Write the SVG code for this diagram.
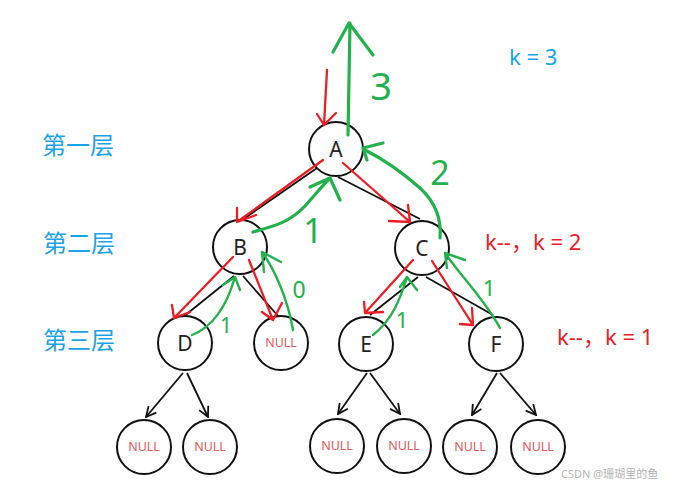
<svg xmlns="http://www.w3.org/2000/svg" width="677" height="487" viewBox="0 0 677 487">
<defs>
<style>
.node{fill:#fff;stroke:#111;stroke-width:2}
.lbl{font-family:"Noto Sans","Liberation Sans",sans-serif;font-size:21px;fill:#222;text-anchor:middle}
.null{font-family:"Noto Sans","Liberation Sans",sans-serif;font-size:12.5px;fill:#e05a5e;text-anchor:middle}
.edge{stroke:#111;stroke-width:1.8;fill:none}
.red{stroke:#ee1c24;stroke-width:2.3;fill:none;stroke-linecap:round;stroke-linejoin:round}
.green{stroke:#22b14c;stroke-width:3.2;fill:none;stroke-linecap:round;stroke-linejoin:round}
.gnum{font-family:"Noto Sans","Liberation Sans",sans-serif;fill:#22b14c;text-anchor:middle}
.blue{font-family:"Noto Sans","Noto Sans CJK SC",sans-serif;fill:#1aa3e8}
.rtxt{font-family:"Noto Sans","Noto Sans CJK SC",sans-serif;font-size:22px;fill:#ee1c24}
</style>
<marker id="chev" viewBox="0 0 12 12" refX="11" refY="6" markerWidth="12" markerHeight="12" markerUnits="userSpaceOnUse" orient="auto">
<path d="M1,1 L11,6 L1,11" fill="none" stroke="#111" stroke-width="1.8"/>
</marker>
</defs>
<rect width="677" height="487" fill="#fff"/>

<g id="connectors">
<path class="edge" d="M317,168 L242,220"/>
<path class="edge" d="M338,177 L420,219"/>
<path class="edge" d="M234,276 L183,317"/>
<path class="edge" d="M243,276 L278,316"/>
<path class="edge" d="M418,277 L370,315"/>
<path class="edge" d="M426,277 L493,315"/>
<path class="edge" d="M183,373 L146,417" marker-end="url(#chev)"/>
<path class="edge" d="M187,373 L208,417" marker-end="url(#chev)"/>
<path class="edge" d="M367,373 L338,414" marker-end="url(#chev)"/>
<path class="edge" d="M370,373 L400,414" marker-end="url(#chev)"/>
<path class="edge" d="M497,373 L472,415" marker-end="url(#chev)"/>
<path class="edge" d="M500,373 L536,415" marker-end="url(#chev)"/>
</g>

<g id="nodes">
<g id="A"><circle class="node" cx="336" cy="149" r="27"/><text class="lbl" x="336" y="157">A</text></g>
<g id="B"><circle class="node" cx="240" cy="247" r="27"/><text class="lbl" x="240" y="255">B</text></g>
<g id="C"><circle class="node" cx="422" cy="248" r="27"/><text class="lbl" x="422" y="256">C</text></g>
<g id="D"><circle class="node" cx="185" cy="343" r="27"/><text class="lbl" x="185" y="351">D</text></g>
<g id="N1"><circle class="node" cx="281" cy="343" r="27"/><text class="null" x="281" y="347">NULL</text></g>
<g id="E"><circle class="node" cx="366" cy="344" r="27"/><text class="lbl" x="366" y="352">E</text></g>
<g id="F"><circle class="node" cx="496" cy="344" r="27"/><text class="lbl" x="496" y="352">F</text></g>
<g id="N2"><circle class="node" cx="144" cy="447" r="27"/><text class="null" x="144" y="451">NULL</text></g>
<g id="N3"><circle class="node" cx="210" cy="447" r="27"/><text class="null" x="210" y="451">NULL</text></g>
<g id="N4"><circle class="node" cx="337" cy="446" r="27"/><text class="null" x="337" y="450">NULL</text></g>
<g id="N5"><circle class="node" cx="404" cy="446" r="27"/><text class="null" x="404" y="450">NULL</text></g>
<g id="N6"><circle class="node" cx="470" cy="447" r="27"/><text class="null" x="470" y="451">NULL</text></g>
<g id="N7"><circle class="node" cx="538" cy="447" r="27"/><text class="null" x="538" y="451">NULL</text></g>
</g>

<g id="red-arrows">
<path class="red" d="M327,70 L324,125 M317,114 L324,125 L336,113"/>
<path class="red" d="M323,160 L237,222 M237,208 L237,222 L256,215"/>
<path class="red" d="M343,163 L410,222 M408,205 L410,222 L389,221"/>
<path class="red" d="M233,257 L175,317 M172,305 L174,318 L190,312"/>
<path class="red" d="M249,260 L273,320 M262,312 L273,320 L282,303"/>
<path class="red" d="M413,260 L365,313 M364,302 L365,313 L383,312"/>
<path class="red" d="M432,261 L473,325 M472,308 L473,325 L460,324"/>
</g>

<g id="green-arrows">
<path class="green" d="M348,135 L350,23 M333,52 L349,23 L373,55"/>
<path class="green" d="M440,238 C442,215 433,200 420,188 C404,174 385,160 365,150 M383,143 L363,148 L367,160"/>
<path class="green" d="M253,232 C275,226 290,222 305,206 C315,195 322,186 330,178 M310,187 L330,178 L340,200"/>
<path class="green" d="M293,330 C288,300 275,270 262,252 M264,272 L262,252 L281,262" style="stroke-width:2.4"/>
<path class="green" d="M192,335 C210,328 225,312 235,277 M223,285 L235,277 L240,290" style="stroke-width:2.4"/>
<path class="green" d="M373,335 C392,320 400,300 407,277 M400,287 L407,277 L417,290" style="stroke-width:2.4"/>
<path class="green" d="M500,328 C485,300 460,275 445,253 M447,268 L445,253 L465,260" style="stroke-width:2.4"/>
</g>

<g id="labels">
<text class="gnum" x="381" y="100" font-size="38">3</text>
<text class="gnum" x="440" y="185" font-size="34">2</text>
<text class="gnum" x="313" y="243" font-size="34">1</text>
<text class="gnum" x="299" y="298" font-size="23">0</text>
<text class="gnum" x="226" y="333" font-size="21">1</text>
<text class="gnum" x="402" y="328" font-size="22">1</text>
<text class="gnum" x="489" y="296" font-size="22">1</text>
<text class="blue" x="509" y="65" font-size="22">k = 3</text>
<text class="rtxt" x="485" y="250">k--，k = 2</text>
<text class="rtxt" x="557" y="345">k--，k = 1</text>
<text class="blue" x="42" y="154" font-size="24">第一层</text>
<text class="blue" x="43" y="252" font-size="24">第二层</text>
<text class="blue" x="43" y="349" font-size="24">第三层</text>
<text x="561" y="478" font-family="Noto Sans, Noto Sans CJK SC, sans-serif" font-size="11" fill="#b4b4b4">CSDN @珊瑚里的鱼</text>
</g>
</svg>
